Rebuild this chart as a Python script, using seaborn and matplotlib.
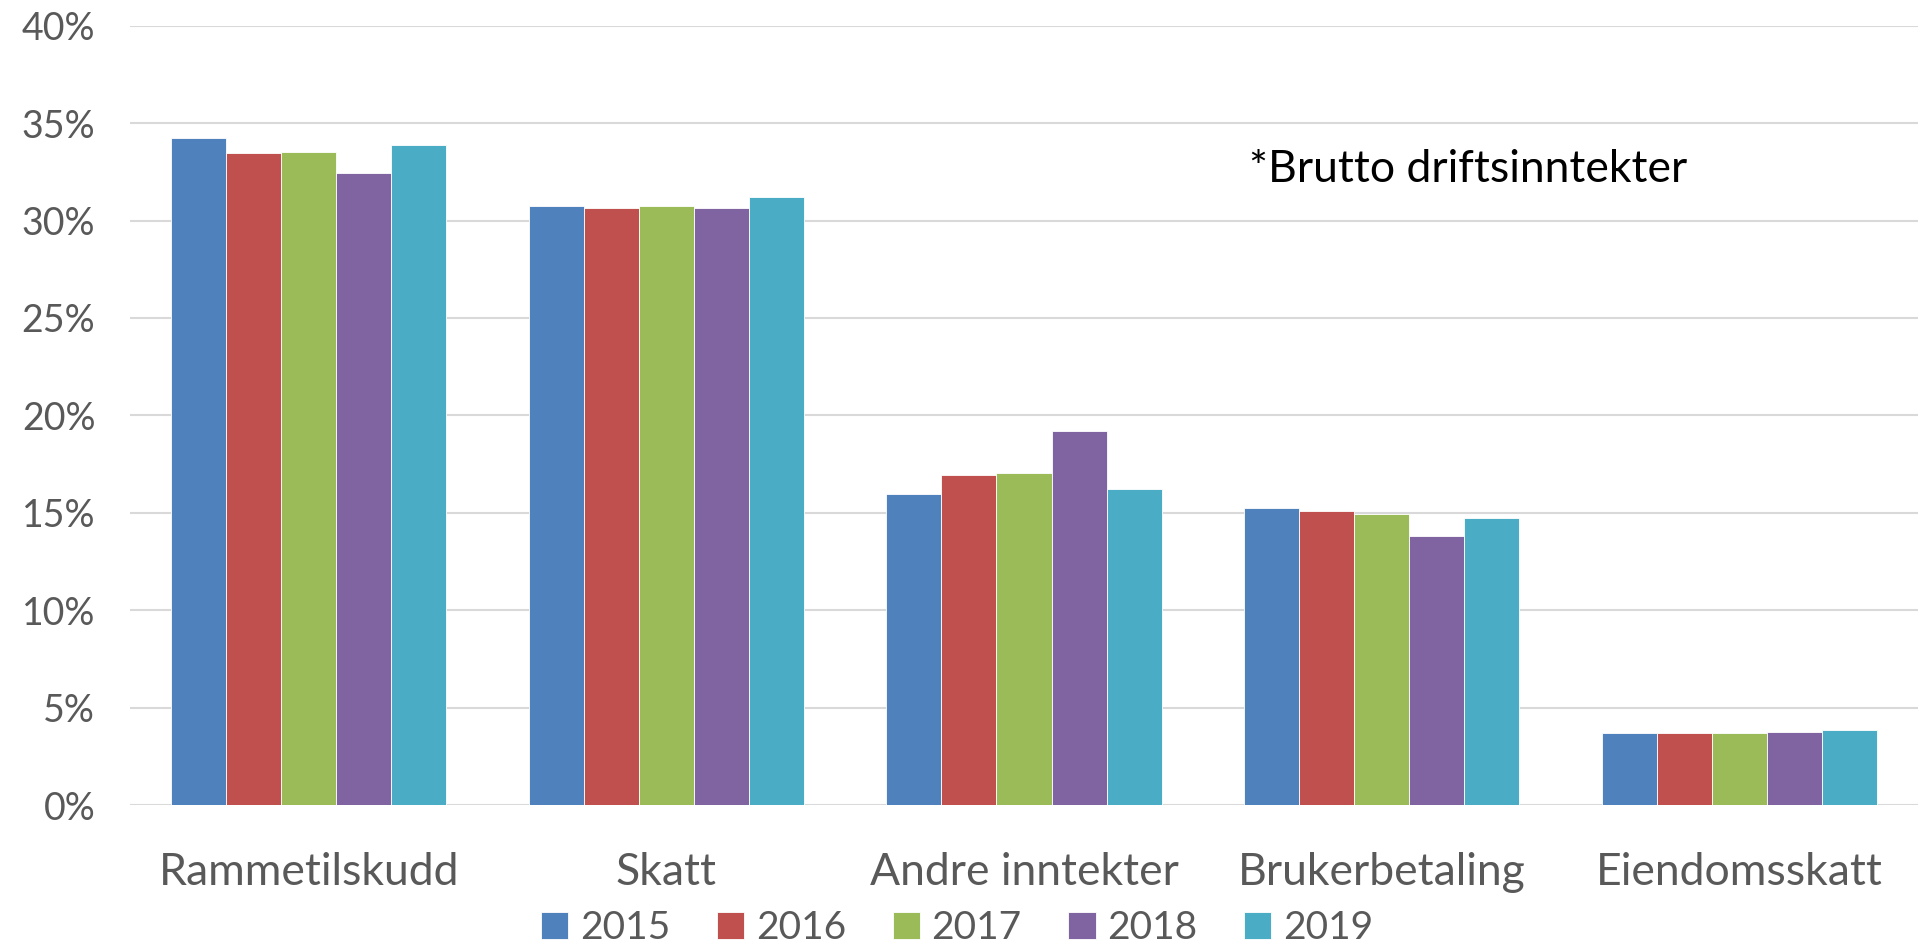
import pandas as pd
import matplotlib
matplotlib.use("Agg")
import matplotlib.pyplot as plt
import seaborn as sns
from matplotlib.ticker import PercentFormatter

sns.set_style("white")
plt.rcParams['font.family'] = ['Lato', 'DejaVu Sans']

kategorier = ["Rammetilskudd", "Skatt", "Andre inntekter", "Brukerbetaling", "Eiendomsskatt"]
aar = ["2015", "2016", "2017", "2018", "2019"]

# andel av brutto driftsinntekter (%), en liste per år
v2015 = [34.26, 30.75, 15.98, 15.23, 3.67]
v2016 = [33.47, 30.65, 16.96, 15.11, 3.72]
v2017 = [33.50, 30.75, 17.03, 14.94, 3.69]
v2018 = [32.44, 30.65, 19.21, 13.83, 3.76]
v2019 = [33.90, 31.20, 16.24, 14.73, 3.85]

farger = ["#4F81BD", "#C0504D", "#9BBB59", "#8064A2", "#4BACC6"]
notat = "*Brutto driftsinntekter"

rows = []
for a, verdier in zip(aar, [v2015, v2016, v2017, v2018, v2019]):
    for k, v in zip(kategorier, verdier):
        rows.append({"kategori": k, "år": a, "andel": v})
df = pd.DataFrame(rows)

fig = plt.figure(figsize=(19.21, 9.49), dpi=100)
ax = fig.add_axes([130 / 1921, 1 - 805 / 949, 1788 / 1921, (805 - 25.7) / 949])

sns.barplot(data=df, x="kategori", y="andel", hue="år", palette=farger,
            width=0.77, saturation=1, edgecolor="white", linewidth=0.6,
            errorbar=None, ax=ax, zorder=3)

grå = "#595959"
ax.set_ylim(0, 40)
ax.set_xlim(-0.5, 4.5)
ax.set_yticks(range(0, 41, 5))
ax.yaxis.set_major_formatter(PercentFormatter(decimals=0))
ax.grid(axis="y", color="#D9D9D9", linewidth=1.5, zorder=0)
ax.set_axisbelow(True)
for s in ax.spines.values():
    s.set_visible(False)
ax.set_xlabel("")
ax.set_ylabel("")
ax.tick_params(axis="y", length=0, pad=25, labelsize=27, labelcolor=grå)
ax.tick_params(axis="x", length=0, pad=34, labelsize=32, labelcolor=grå)

ax.text(2.63, 32.6, notat, fontsize=32, color="black", va="center", ha="left")

ax.legend(loc="center", ncol=5, frameon=False, fontsize=28, labelcolor=grå,
          handlelength=0.7, handleheight=0.7, handletextpad=0.3, columnspacing=1.2,
          borderaxespad=0)
leg = ax.get_legend()
leg.set_bbox_to_anchor((957 / 1921, 1 - 928 / 949), transform=fig.transFigure)

fig.savefig("out.png", dpi=100)
